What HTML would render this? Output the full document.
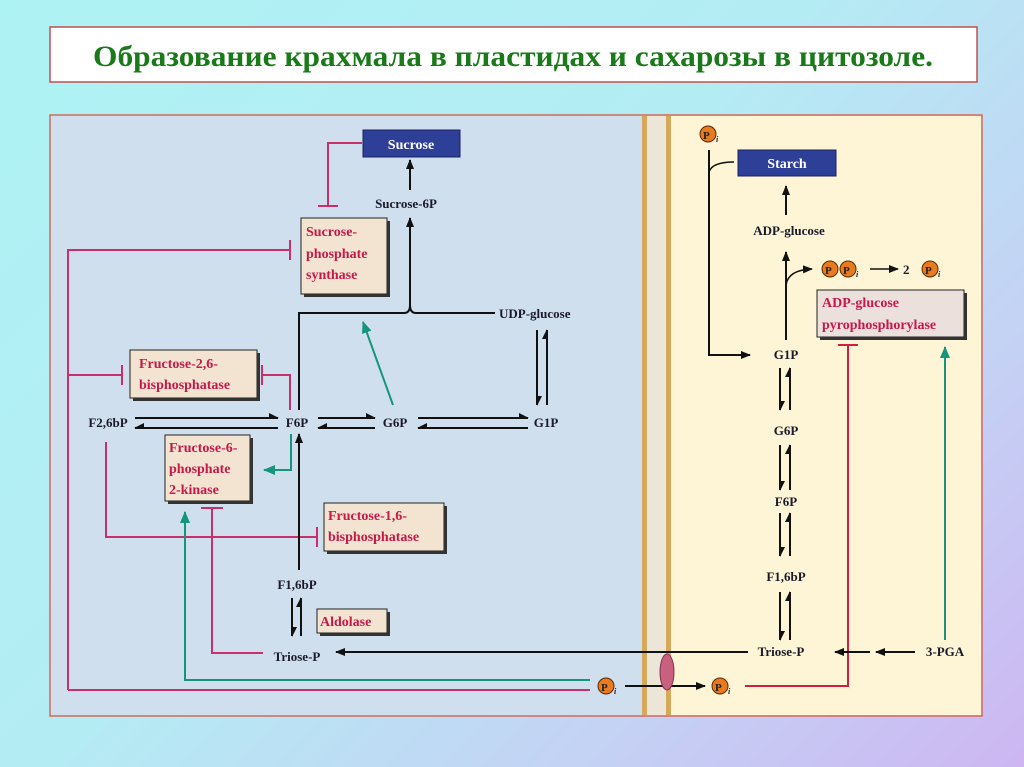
<!DOCTYPE html>
<html><head><meta charset="utf-8"><style>
html,body{margin:0;padding:0;width:1024px;height:767px;overflow:hidden}
body{background:linear-gradient(135deg,#aef3f4 0%,#b4ecf4 45%,#c4d2f4 75%,#cdb6f2 100%)}
svg{position:absolute;left:0;top:0}
text{font-family:"Liberation Serif",serif;font-weight:bold}
.n{font-size:13px;fill:#1a1a2a}
.e{font-size:14px;fill:#c8184a}
</style></head><body>
<svg width="1024" height="767" viewBox="0 0 1024 767">
<defs>
<marker id="ab" markerWidth="10" markerHeight="8" refX="9" refY="4" orient="auto" markerUnits="userSpaceOnUse"><path d="M0,0 L10,4 L0,8 Z" fill="#111"/></marker>
<marker id="ag" markerWidth="12" markerHeight="10" refX="11" refY="5" orient="auto" markerUnits="userSpaceOnUse"><path d="M0,0 L12,5 L0,10 Z" fill="#16957a"/></marker>
<marker id="ha" markerWidth="10" markerHeight="6" refX="9" refY="5" orient="auto" markerUnits="userSpaceOnUse"><path d="M0,0 L10,5 L0,5 Z" fill="#111"/></marker>
<marker id="hb" markerWidth="10" markerHeight="6" refX="9" refY="1" orient="auto" markerUnits="userSpaceOnUse"><path d="M0,1 L10,1 L0,6 Z" fill="#111"/></marker>
</defs>
<rect x="50" y="27" width="927" height="55" fill="#fff" stroke="#c0504d" stroke-width="1.5"/>
<text x="513" y="66" text-anchor="middle" font-size="30" fill="#1a7a1a" textLength="840" lengthAdjust="spacingAndGlyphs">Образование крахмала в пластидах и сахарозы в цитозоле.</text>

<rect x="50" y="115" width="932" height="601" fill="#cfdfee" stroke="#d06a5a" stroke-width="1.5"/>
<rect x="668" y="116" width="313" height="599" fill="#fdf5d6"/>
<rect x="646" y="116" width="22" height="599" fill="#ece6d8"/>
<rect x="642" y="116" width="5" height="599" fill="#d6a85a"/>
<rect x="666" y="116" width="5" height="599" fill="#d6a85a"/>

<g stroke="#c8306a" stroke-width="2" fill="none">
<path d="M362,143 H328 V206"/><path d="M318,206 H338"/>
<path d="M68,690 V250 H290"/><path d="M290,240 V260"/>
<path d="M68,375 H122"/><path d="M122,365 V385"/>
<path d="M290,410 V375 H262"/><path d="M262,365 V385"/>
<path d="M106,442 V537 H317"/><path d="M317,527 V547"/>
<path d="M263,653 H212 V508"/><path d="M201,508 H223"/>
<path d="M68,690 H590"/>
</g>
<g stroke="#d02040" stroke-width="2" fill="none">
<path d="M745,686 H848 V345"/><path d="M838,345 H858"/>
</g>
<g stroke="#16957a" stroke-width="2" fill="none">
<path d="M393,405 L363,322" marker-end="url(#ag)"/>
<path d="M291,434 V470 H264" marker-end="url(#ag)"/>
<path d="M590,680 H185 V512" marker-end="url(#ag)"/>
<path d="M945,640 V347" marker-end="url(#ag)"/>
</g>
<g stroke="#111" stroke-width="2" fill="none">
<path d="M410,190 V160" marker-end="url(#ab)"/>
<path d="M299,410 V313 H404 Q410,313 410,305 Q410,313 416,313 H495"/>
<path d="M410,305 V218" marker-end="url(#ab)"/>
<path d="M135,418 H278" marker-end="url(#ha)"/>
<path d="M278,428 H135" marker-end="url(#hb)"/>
<path d="M318,418 H375" marker-end="url(#ha)"/>
<path d="M375,428 H318" marker-end="url(#hb)"/>
<path d="M418,418 H528" marker-end="url(#ha)"/>
<path d="M528,428 H418" marker-end="url(#hb)"/>
<path d="M537,330 V405" marker-end="url(#ha)"/>
<path d="M547,405 V330" marker-end="url(#ha)"/>
<path d="M299,570 V434" marker-end="url(#ab)"/>
<path d="M292,598 V636" marker-end="url(#ha)"/>
<path d="M301,636 V598" marker-end="url(#ha)"/>
<path d="M748,652 H336" marker-end="url(#ab)"/>
<path d="M625,686 H705" marker-end="url(#ab)"/>
<path d="M709,150 V355 H750" marker-end="url(#ab)"/>
<path d="M709,172 Q712,162 734,162" stroke-width="1.5"/>
<path d="M786,215 V186" marker-end="url(#ab)"/>
<path d="M786,340 V252" marker-end="url(#ab)"/>
<path d="M786,285 Q788,270 812,269" stroke-width="1.5" marker-end="url(#ab)"/>
<path d="M870,269 H898" stroke-width="1.5" marker-end="url(#ab)"/>
<path d="M870,652 H835" marker-end="url(#ab)"/>
<path d="M915,652 H876" marker-end="url(#ab)"/>
<path d="M780,368 V410" marker-end="url(#ha)"/><path d="M790,410 V368" marker-end="url(#ha)"/>
<path d="M780,445 V490" marker-end="url(#ha)"/><path d="M790,490 V445" marker-end="url(#ha)"/>
<path d="M780,513 V556" marker-end="url(#ha)"/><path d="M790,556 V513" marker-end="url(#ha)"/>
<path d="M780,592 V640" marker-end="url(#ha)"/><path d="M790,640 V592" marker-end="url(#ha)"/>
</g>
<ellipse cx="667" cy="672" rx="7" ry="18" fill="#c86080" stroke="#8a3050" stroke-width="1"/>

<rect x="363" y="130" width="97" height="27" fill="#2e3f98" stroke="#1a2060"/>
<text x="411" y="149" text-anchor="middle" font-size="14" fill="#fff">Sucrose</text>
<rect x="738" y="150" width="98" height="26" fill="#2e3f98" stroke="#1a2060"/>
<text x="787" y="168" text-anchor="middle" font-size="14" fill="#fff">Starch</text>

<g fill="#f2e4d0" stroke="#222" stroke-width="1">
<rect x="301" y="218" width="86" height="76"/>
<rect x="130" y="350" width="127" height="48"/>
<rect x="165" y="435" width="85" height="66"/>
<rect x="324" y="503" width="120" height="48"/>
<rect x="317" y="609" width="70" height="24"/>
<rect x="817" y="290" width="147" height="47" fill="#ece0dc"/>
</g>
<g fill="#333">
<rect x="387" y="221" width="3" height="76"/><rect x="304" y="294" width="86" height="3"/>
<rect x="257" y="353" width="3" height="48"/><rect x="133" y="398" width="127" height="3"/>
<rect x="250" y="438" width="3" height="66"/><rect x="168" y="501" width="85" height="3"/>
<rect x="444" y="506" width="3" height="48"/><rect x="327" y="551" width="120" height="3"/>
<rect x="387" y="612" width="3" height="24"/><rect x="320" y="633" width="70" height="3"/>
<rect x="964" y="293" width="3" height="47"/><rect x="820" y="337" width="147" height="3"/>
</g>
<g class="e">
<text x="306" y="236">Sucrose-</text><text x="306" y="258">phosphate</text><text x="306" y="279">synthase</text>
<text x="139" y="368">Fructose-2,6-</text><text x="139" y="389">bisphosphatase</text>
<text x="169" y="452">Fructose-6-</text><text x="169" y="473">phosphate</text><text x="169" y="494">2-kinase</text>
<text x="328" y="520">Fructose-1,6-</text><text x="328" y="541">bisphosphatase</text>
<text x="320" y="626">Aldolase</text>
<text x="822" y="307">ADP-glucose</text><text x="822" y="329">pyrophosphorylase</text>
</g>
<g class="n">
<text x="406" y="208" text-anchor="middle">Sucrose-6P</text>
<text x="499" y="318">UDP-glucose</text>
<text x="108" y="427" text-anchor="middle">F2,6bP</text>
<text x="297" y="427" text-anchor="middle">F6P</text>
<text x="395" y="427" text-anchor="middle">G6P</text>
<text x="546" y="427" text-anchor="middle">G1P</text>
<text x="297" y="589" text-anchor="middle">F1,6bP</text>
<text x="297" y="661" text-anchor="middle">Triose-P</text>
<text x="789" y="235" text-anchor="middle">ADP-glucose</text>
<text x="786" y="359" text-anchor="middle">G1P</text>
<text x="786" y="435" text-anchor="middle">G6P</text>
<text x="786" y="506" text-anchor="middle">F6P</text>
<text x="786" y="581" text-anchor="middle">F1,6bP</text>
<text x="781" y="656" text-anchor="middle">Triose-P</text>
<text x="945" y="656" text-anchor="middle">3-PGA</text>
<text x="903" y="274">2</text>
</g>
<g stroke="#5a2a00" stroke-width="1" fill="#e87a20">
<circle cx="708" cy="134" r="8"/><circle cx="830" cy="269" r="8"/><circle cx="848" cy="269" r="8"/>
<circle cx="930" cy="269" r="8"/><circle cx="606" cy="686" r="8"/><circle cx="720" cy="686" r="8"/>
</g>
<g font-size="11" fill="#222">
<text x="703" y="139">P</text><text x="825" y="274">P</text><text x="843" y="274">P</text>
<text x="925" y="274">P</text><text x="601" y="691">P</text><text x="715" y="691">P</text>
</g>
<g font-size="8" fill="#222" font-style="italic">
<text x="716" y="142">i</text><text x="856" y="277">i</text><text x="938" y="277">i</text>
<text x="614" y="694">i</text><text x="728" y="694">i</text>
</g>
</svg>
</body></html>
